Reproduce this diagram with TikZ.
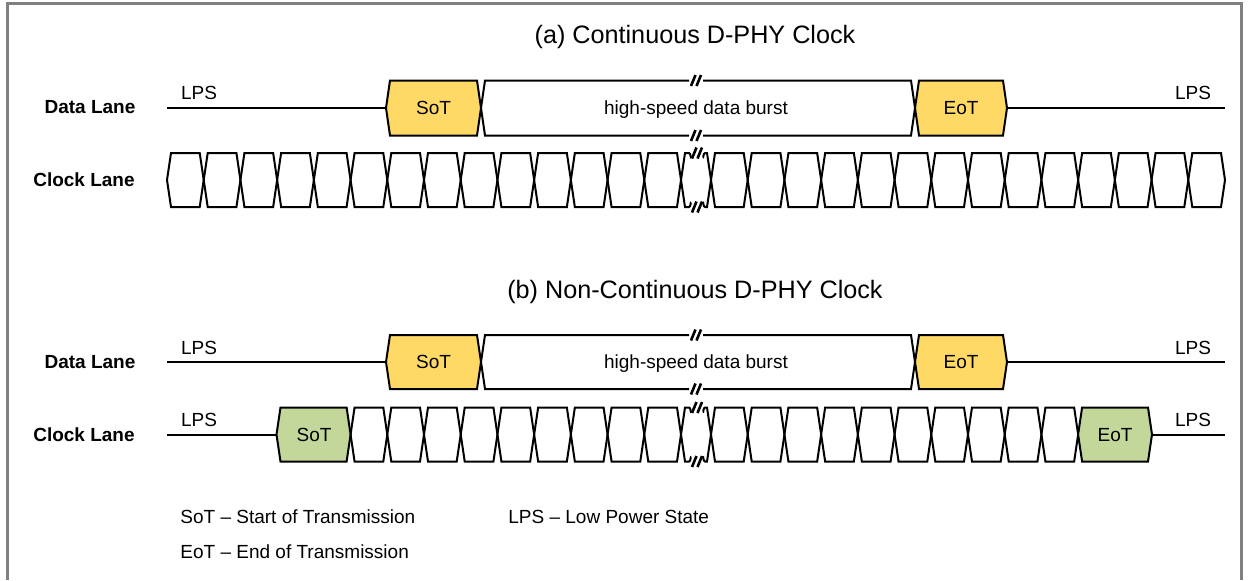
\documentclass[tikz,border=0pt]{standalone}
\usepackage{fontspec}
\setmainfont{Liberation Sans}
\definecolor{sotyellow}{RGB}{255,217,102}
\definecolor{clkgreen}{RGB}{196,215,155}
\definecolor{framegray}{RGB}{128,128,128}

% hexagonal segment: x-left tip, x-right tip, y-centre, half height, style
\newcommand\hexseg[5]{%
  \draw[#5] ({#1},{#3}) -- ({#1+4},{#3-#4}) -- ({#2-4},{#3-#4}) -- ({#2},{#3})
    -- ({#2-4},{#3+#4}) -- ({#1+4},{#3+#4}) -- cycle;}
% pair of slanted break strokes centred at (x,y)
\newcommand\breakmark[2]{%
  \draw[breakstroke] ({#1-5},{#2+5.5}) -- ({#1-0.5},{#2-5.5});
  \draw[breakstroke] ({#1+0.5},{#2+5.5}) -- ({#1+5},{#2-5.5});}

\tikzset{
  wire/.style={line width=1pt, line cap=butt},
  breakstroke/.style={line width=1.3pt, line cap=butt},
  signal/.style={wire, line join=miter},
  txt/.style={inner sep=0pt, font=\fontsize{9.5}{11}\selectfont, text height=6.8pt, text depth=0pt},
  lanelabel/.style={txt, font=\fontsize{9.5}{11}\selectfont\bfseries},
  title/.style={inner sep=0pt, font=\fontsize{12.6}{15}\selectfont, text height=9pt, text depth=0pt},
  legend/.style={txt, anchor=west},
}

\begin{document}
\begin{tikzpicture}[x=0.5pt, y=-0.5pt]
\useasboundingbox (0,0) rectangle (1248,580);

% outer frame (open at the bottom)
\draw[framegray, line width=1.5pt] (7,580) -- (7,3) -- (1241,3) -- (1241,580);

\def\cw{36.714}

% ------------------------------------------------------------------
% (a) continuous clock
\node[title] (ta) at (695,34) {(a) Continuous D-PHY Clock};

\node[lanelabel] (dla) at (90,107) {Data Lane};
\node[lanelabel] (cla) at (84,180) {Clock Lane};

% data lane
\coordinate (a-lps-l) at (167,108);
\coordinate (a-sot-w) at (386,108);
\coordinate (a-eot-e) at (1007,108);
\coordinate (a-lps-r) at (1225,108);
\draw[wire] (a-lps-l) -- (a-sot-w);
\draw[wire] (a-eot-e) -- (a-lps-r);
\node[txt] (a-lps1) at (199,93) {LPS};
\node[txt] (a-lps2) at (1193,93) {LPS};

\hexseg{386}{481}{108}{27.5}{signal, fill=sotyellow}
\node[txt] (a-sot) at (433.5,108) {SoT};
\hexseg{915}{1007}{108}{27.5}{signal, fill=sotyellow}
\node[txt] (a-eot) at (961,108) {EoT};

% burst with break marks
\draw[signal] (689,80.5) -- (485,80.5) -- (481,108) -- (485,135.5) -- (689,135.5);
\draw[signal] (703,80.5) -- (911,80.5) -- (915,108) -- (911,135.5) -- (703,135.5);
\breakmark{696}{80.5}
\breakmark{696}{135.5}
\node[txt] (a-burst) at (696,108) {high-speed data burst};

% clock lane
\foreach \i in {0,...,13}{
  \hexseg{167+\cw*\i}{167+\cw*(\i+1)}{180}{27}{signal}
  \hexseg{711+\cw*\i}{711+\cw*(\i+1)}{180}{27}{signal}
}
\draw[signal] (691,157) to[out=-100,in=0] (689,153) -- (685,153) -- (681,180) -- (685,207) -- (689,207) to[out=0,in=100] (691,203);
\draw[signal] (703,157) to[out=-80,in=180] (705,153) -- (707,153) -- (711,180) -- (707,207) -- (705,207) to[out=180,in=80] (703,203);
\breakmark{697}{153}
\breakmark{697}{207}

% ------------------------------------------------------------------
% (b) non-continuous clock
\node[title] (tb) at (695,289) {(b) Non-Continuous D-PHY Clock};

\node[lanelabel] (dlb) at (90,362) {Data Lane};
\node[lanelabel] (clb) at (84,435) {Clock Lane};

% data lane
\coordinate (b-lps-l) at (167,362);
\coordinate (b-sot-w) at (386,362);
\coordinate (b-eot-e) at (1007,362);
\coordinate (b-lps-r) at (1225,362);
\draw[wire] (b-lps-l) -- (b-sot-w);
\draw[wire] (b-eot-e) -- (b-lps-r);
\node[txt] (b-lps1) at (199,348) {LPS};
\node[txt] (b-lps2) at (1193,348) {LPS};

\hexseg{386}{481}{362}{27}{signal, fill=sotyellow}
\node[txt] (b-sot) at (433.5,362) {SoT};
\hexseg{915}{1007}{362}{27}{signal, fill=sotyellow}
\node[txt] (b-eot) at (961,362) {EoT};

\draw[signal] (689,335) -- (485,335) -- (481,362) -- (485,389) -- (689,389);
\draw[signal] (703,335) -- (911,335) -- (915,362) -- (911,389) -- (703,389);
\breakmark{696}{335}
\breakmark{696}{389}
\node[txt] (b-burst) at (696,362) {high-speed data burst};

% clock lane
\coordinate (c-lps-l) at (167,434.5);
\coordinate (c-sot-w) at (276.5,434.5);
\coordinate (c-eot-e) at (1152,434.5);
\coordinate (c-lps-r) at (1225,434.5);
\draw[wire] (c-lps-l) -- (c-sot-w);
\draw[wire] (c-eot-e) -- (c-lps-r);
\node[txt] (c-lps1) at (199,420) {LPS};
\node[txt] (c-lps2) at (1193,420) {LPS};

\hexseg{276.5}{350.6}{434.5}{27}{signal, fill=clkgreen}
\node[txt] (c-sot) at (314,434.5) {SoT};
\foreach \i in {5,...,13}{
  \hexseg{167+\cw*\i}{167+\cw*(\i+1)}{434.5}{27}{signal}
}
\foreach \i in {0,...,9}{
  \hexseg{711+\cw*\i}{711+\cw*(\i+1)}{434.5}{27}{signal}
}
\hexseg{1078.1}{1152}{434.5}{27}{signal, fill=clkgreen}
\node[txt] (c-eot) at (1115,434.5) {EoT};
\draw[signal] (691,411.5) to[out=-100,in=0] (689,407.5) -- (685,407.5) -- (681,434.5) -- (685,461.5) -- (689,461.5) to[out=0,in=100] (691,457.5);
\draw[signal] (703,411.5) to[out=-80,in=180] (705,407.5) -- (707,407.5) -- (711,434.5) -- (707,461.5) -- (705,461.5) to[out=180,in=80] (703,457.5);
\breakmark{697}{407.5}
\breakmark{697}{461.5}

% ------------------------------------------------------------------
% legend
\node[legend] (lg1) at (180,517) {SoT -- Start of Transmission};
\node[legend] (lg2) at (180,552) {EoT -- End of Transmission};
\node[legend] (lg3) at (508,517) {LPS -- Low Power State};
\end{tikzpicture}
\end{document}
